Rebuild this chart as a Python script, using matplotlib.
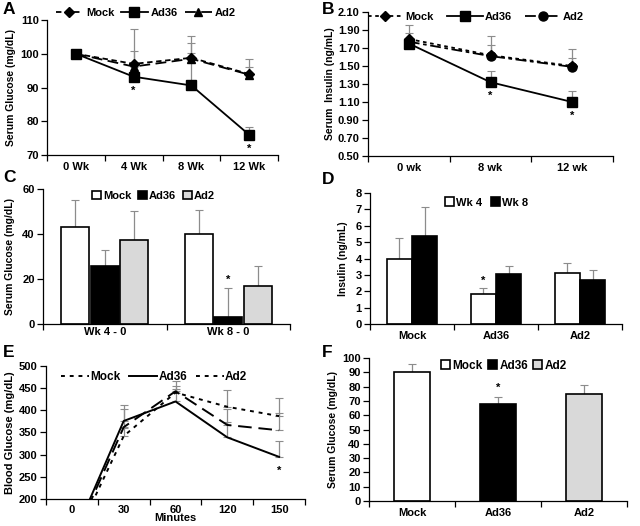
import matplotlib
matplotlib.use("Agg")
import matplotlib.pyplot as plt
import numpy as np
from matplotlib.patches import Patch
from matplotlib.lines import Line2D

plt.rcParams['font.family'] = ['Liberation Sans', 'DejaVu Sans']
plt.rcParams['font.weight'] = 'bold'
plt.rcParams['axes.labelweight'] = 'bold'

# ---------------- data ----------------
# Panel A
a_labels = ["0 Wk", "4 Wk", "8 Wk", "12 Wk"]
a_mock = [100, 97.0, 98.8, 94.0]
a_mock_err = [0, 10.2, 6.5, 4.3]
a_ad36 = [100, 93.2, 90.6, 76.0]
a_ad36_err = [0, 0.8, 9.5, 2.2]
a_ad2 = [100, 96.2, 98.5, 93.8]
a_ad2_err = [0, 4.7, 4.8, 2.2]

# Panel B
b_labels = ["0 wk", "8 wk", "12 wk"]
b_mock = [1.80, 1.62, 1.50]
b_mock_err = [0.16, 0.21, 0.185]
b_ad36 = [1.75, 1.32, 1.10]
b_ad36_err = [0.02, 0.12, 0.12]
b_ad2 = [1.77, 1.61, 1.49]
b_ad2_err = [0.10, 0.12, 0.095]

# Panel C
c_labels = ["Wk 4 - 0", "Wk 8 - 0"]
c_mock = [43, 40]
c_mock_err = [12, 10.5]
c_ad36 = [26, 3]
c_ad36_err = [6.8, 13]
c_ad2 = [37.5, 17]
c_ad2_err = [12.8, 8.7]

# Panel D
d_labels = ["Mock", "Ad36", "Ad2"]
d_wk4 = [4.0, 1.85, 3.1]
d_wk4_err = [1.25, 0.35, 0.65]
d_wk8 = [5.35, 3.05, 2.7]
d_wk8_err = [1.8, 0.5, 0.6]

# Panel E
e_labels = ["0", "30", "60", "120", "150"]
e_mock = [95, 342, 440, 408, 387]
e_mock_err = [0, 18, 16, 37, 41]
e_ad36 = [106, 376, 420, 339, 295]
e_ad36_err = [0, 37, 29, 35, 36]
e_ad2 = [100, 362, 443, 367, 355]
e_ad2_err = [0, 40, 23, 36, 38]

# Panel F
f_labels = ["Mock", "Ad36", "Ad2"]
f_values = [90.5, 67.5, 74.5]
f_err = [5.5, 5.5, 6.5]

W, H = 640, 526
fig = plt.figure(figsize=(6.4, 5.26), dpi=100)

def add_ax(l, r, t, b):
    return fig.add_axes([l / W, 1 - b / H, (r - l) / W, (b - t) / H])

ERR = '#8c8c8c'
TFS = 8

def style(ax, ncat):
    for s in ['top', 'right']:
        ax.spines[s].set_visible(False)
    ax.spines['left'].set_linewidth(0.9)
    ax.spines['bottom'].set_linewidth(0.9)
    ax.set_xlim(-0.5, ncat - 0.5)
    ax.set_xticks(np.arange(ncat + 1) - 0.5, minor=False)
    ax.set_xticklabels([])
    ax.set_xticks(np.arange(ncat), minor=True)
    ax.tick_params(axis='x', which='major', length=4, width=0.9, direction='out')
    ax.tick_params(axis='x', which='minor', length=0, labelsize=TFS, pad=5)
    ax.tick_params(axis='y', length=4, width=0.9, direction='out', labelsize=TFS, pad=2)
    for t in ax.get_yticklabels():
        t.set_fontweight('bold')

def set_cats(ax, labels):
    ax.set_xticklabels(labels, minor=True, fontweight='bold', fontsize=TFS)

def star(ax, xv, yv, dy):
    ax.annotate("*", (xv, yv), xytext=(0, dy), textcoords='offset points',
                ha='center', va='center', fontsize=8, fontweight='bold')

def letter(x, y, s):
    fig.text(x / W, 1 - y / H, s, fontsize=12.5, fontweight='bold', va='top', ha='left')

# ---------------- Panel A ----------------
ax = add_ax(47, 278, 20, 155)
x = np.arange(len(a_labels))
for vals, err, ls, mk, ms, lab in [
    (a_mock, a_mock_err, (0, (3, 2)), 'D', 5, 'Mock'),
    (a_ad36, a_ad36_err, '-', 's', 7, 'Ad36'),
    (a_ad2, a_ad2_err, (0, (6, 3)), '^', 6, 'Ad2')]:
    ax.errorbar(x, vals, yerr=[np.zeros(len(err)), err], fmt='none', ecolor=ERR,
                elinewidth=0.9, capsize=3, capthick=0.8, zorder=1)
    ax.plot(x, vals, color='black', linestyle=ls, lw=1.3, marker=mk, ms=ms, label=lab, zorder=3)
ax.set_ylim(70, 110)
ax.set_yticks([70, 80, 90, 100, 110])
ax.set_ylabel("Serum Glucose (mg/dL)", fontsize=TFS - 0.5, fontweight='bold', labelpad=3)
style(ax, 4)
set_cats(ax, a_labels)
for i in [1, 3]:
    star(ax, x[i], a_ad36[i], -10)
ax.legend(loc='upper left', bbox_to_anchor=(0.02, 1.12), ncol=3, frameon=False,
          fontsize=TFS, handlelength=2.4, columnspacing=0.6, handletextpad=0.3,
          borderaxespad=0)

# ---------------- Panel B ----------------
ax = add_ax(368, 613, 12, 156)
x = np.arange(len(b_labels))
for vals, err, ls, mk, ms, lab in [
    (b_mock, b_mock_err, (0, (2, 2)), 'D', 5, 'Mock'),
    (b_ad36, b_ad36_err, '-', 's', 7, 'Ad36'),
    (b_ad2, b_ad2_err, (0, (6, 2, 2, 2)), 'o', 6.5, 'Ad2')]:
    ax.errorbar(x, vals, yerr=[np.zeros(len(err)), err], fmt='none', ecolor=ERR,
                elinewidth=0.9, capsize=3, capthick=0.8, zorder=1)
    ax.plot(x, vals, color='black', linestyle=ls, lw=1.3, marker=mk, ms=ms, label=lab, zorder=3)
ax.set_ylim(0.5, 2.1)
ax.set_yticks(np.arange(0.5, 2.11, 0.2))
ax.yaxis.set_major_formatter(matplotlib.ticker.FormatStrFormatter('%.2f'))
ax.set_ylabel("Serum  Insulin (ng/mL)", fontsize=TFS - 0.5, fontweight='bold', labelpad=2)
style(ax, 3)
set_cats(ax, b_labels)
for i in [1, 2]:
    star(ax, x[i], b_ad36[i], -10)
ax.legend(loc='upper left', bbox_to_anchor=(-0.02, 1.03), ncol=3, frameon=False,
          fontsize=TFS, handlelength=3.2, columnspacing=1.2, handletextpad=0.2,
          borderaxespad=0)

# ---------------- Panel C ----------------
ax = add_ax(43, 290, 189, 324)
x = np.arange(len(c_labels))
bw = 0.225
off = 0.24
for k, (vals, err, col, lab) in enumerate([
        (c_mock, c_mock_err, 'white', 'Mock'),
        (c_ad36, c_ad36_err, 'black', 'Ad36'),
        (c_ad2, c_ad2_err, '#d9d9d9', 'Ad2')]):
    ax.bar(x + (k - 1) * off, vals, width=bw, color=col, edgecolor='black', linewidth=1.2,
           label=lab, zorder=2)
    ax.errorbar(x + (k - 1) * off, vals, yerr=[np.zeros(len(err)), err], fmt='none',
                ecolor=ERR, elinewidth=0.9, capsize=3, capthick=0.8, zorder=1)
ax.set_ylim(0, 60)
ax.set_yticks([0, 20, 40, 60])
ax.set_ylabel("Serum Glucose (mg/dL)", fontsize=TFS - 0.5, fontweight='bold', labelpad=5)
style(ax, 2)
set_cats(ax, c_labels)
ax.tick_params(axis='x', which='minor', pad=2)
star(ax, x[1], c_ad36[1] + c_ad36_err[1], 6)
ax.legend(loc='upper left', bbox_to_anchor=(0.18, 1.02), ncol=3, frameon=False,
          fontsize=TFS, handlelength=0.8, handleheight=0.8, columnspacing=0.6,
          handletextpad=0.2, borderaxespad=0)

# ---------------- Panel D ----------------
ax = add_ax(370, 622, 193, 324)
x = np.arange(len(d_labels))
bw = 0.29
for k, (vals, err, col, lab) in enumerate([
        (d_wk4, d_wk4_err, 'white', 'Wk 4'),
        (d_wk8, d_wk8_err, 'black', 'Wk 8')]):
    xs = x + (k - 0.5) * 0.30
    ax.bar(xs, vals, width=bw, color=col, edgecolor='black', linewidth=1.2, label=lab, zorder=2)
    ax.errorbar(xs, vals, yerr=[np.zeros(len(err)), err], fmt='none', ecolor=ERR,
                elinewidth=0.9, capsize=3, capthick=0.8, zorder=1)
ax.set_ylim(0, 8)
ax.set_yticks(range(0, 9))
ax.set_ylabel("Insulin (ng/mL)", fontsize=TFS - 0.5, fontweight='bold', labelpad=5)
style(ax, 3)
set_cats(ax, d_labels)
star(ax, x[1] - 0.15, d_wk4[1] + d_wk4_err[1], 5)
ax.legend(loc='upper left', bbox_to_anchor=(0.28, 1.0), ncol=2, frameon=False,
          fontsize=TFS, handlelength=0.8, handleheight=0.8, columnspacing=0.8,
          handletextpad=0.2, borderaxespad=0)

# ---------------- Panel E ----------------
ax = add_ax(46, 305, 366, 499)
x = np.arange(len(e_labels))
for vals, err, ls, lab in [
        (e_mock, e_mock_err, (0, (2, 2.5)), 'Mock'),
        (e_ad36, e_ad36_err, '-', 'Ad36'),
        (e_ad2, e_ad2_err, (0, (7, 3.5)), 'Ad2')]:
    ax.errorbar(x[1:], vals[1:], yerr=[np.zeros(len(err) - 1), err[1:]], fmt='none',
                ecolor=ERR, elinewidth=0.9, capsize=3, capthick=0.8, zorder=1)
    ax.plot(x, vals, color='black', linestyle=ls, lw=1.4, label=lab, zorder=3)
ax.set_ylim(200, 500)
ax.set_yticks(range(200, 501, 50))
ax.set_ylabel("Blood Glucose (mg/dL)", fontsize=TFS, fontweight='bold', labelpad=3)
style(ax, 5)
set_cats(ax, e_labels)
ax.tick_params(axis='x', which='minor', pad=4)
ax.set_xlabel("Minutes", fontsize=TFS, fontweight='bold', labelpad=-1)
star(ax, x[4], e_ad36[4], -10)
handles = [Line2D([], [], color='black', lw=1.4, ls=(0, (2, 2.5))),
           Line2D([], [], color='black', lw=1.4, ls='-'),
           Line2D([], [], color='black', lw=1.4, ls=(0, (2, 2.5)))]
ax.legend(handles, ['Mock', 'Ad36', 'Ad2'], loc='upper left', bbox_to_anchor=(0.04, 1.0),
          ncol=3, frameon=False, fontsize=TFS + 0.5, handlelength=2.4, columnspacing=0.7,
          handletextpad=0.1, borderaxespad=0)

# ---------------- Panel F ----------------
ax = add_ax(369, 627, 358, 501)
x = np.arange(len(f_labels))
f_cols = ['white', 'black', '#d9d9d9']
ax.bar(x, f_values, width=0.43, color=f_cols, edgecolor='black', linewidth=1.2, zorder=2)
ax.errorbar(x, f_values, yerr=[np.zeros(len(f_err)), f_err], fmt='none', ecolor=ERR,
            elinewidth=0.9, capsize=3, capthick=0.8, zorder=1)
ax.set_ylim(0, 100)
ax.set_yticks(range(0, 101, 10))
ax.set_ylabel("Serum Glucose (mg/dL)", fontsize=TFS - 0.5, fontweight='bold', labelpad=3)
style(ax, 3)
set_cats(ax, f_labels)
star(ax, x[1], f_values[1] + f_err[1], 6)
fh = [Patch(facecolor=c, edgecolor='black', linewidth=1.2) for c in f_cols]
ax.legend(fh, f_labels, loc='upper left', bbox_to_anchor=(0.26, 1.02), ncol=3, frameon=False,
          fontsize=TFS + 0.5, handlelength=0.8, handleheight=0.8, columnspacing=0.4,
          handletextpad=0.2, borderaxespad=0)

letter(3, 2, "A")
letter(322, 2, "B")
letter(3, 170, "C")
letter(322, 172, "D")
letter(3, 345, "E")
letter(322, 345, "F")

fig.savefig("out.png", dpi=100)
